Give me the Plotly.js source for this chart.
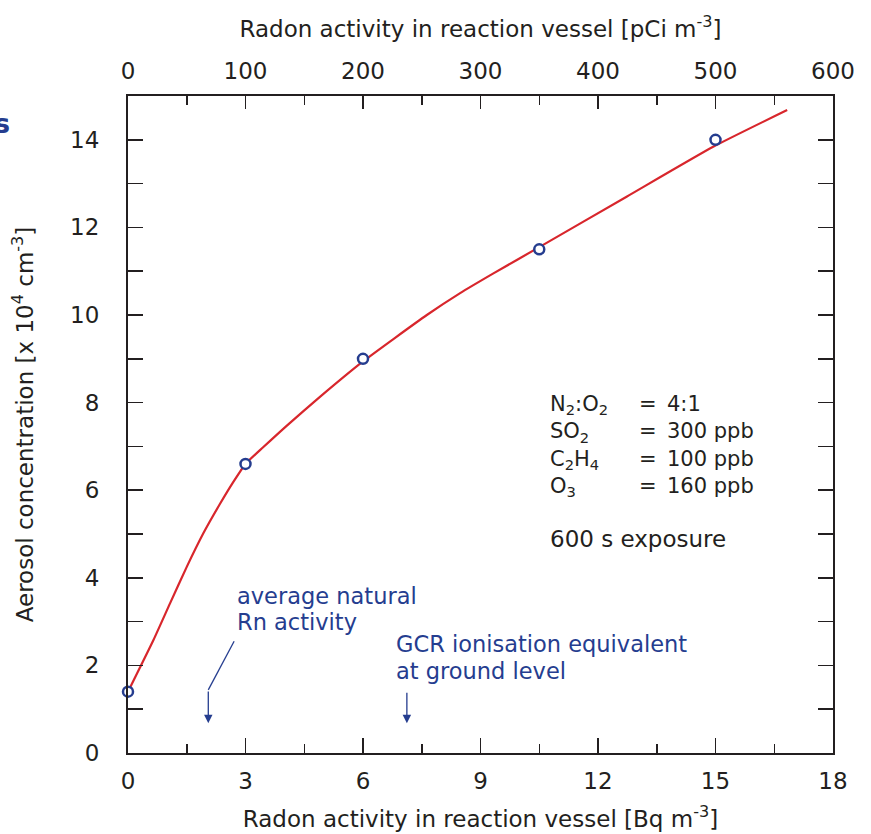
<!DOCTYPE html>
<html>
<head>
<meta charset="utf-8">
<script src="https://cdn.plot.ly/plotly-3.0.1.min.js"></script>
<style>html,body{margin:0;padding:0;background:#fff;}#chart{width:871px;height:834px;}</style>
</head>
<body>
<div id="chart"></div>
<script>
// measured points (Bq m-3 vs aerosol concentration x10^4 cm-3)
const pointX = [0, 3, 6, 10.5, 15];
const pointY = [1.4, 6.6, 9.0, 11.5, 14.0];
// fitted red curve
const curveX = [0, 0.65, 1.07, 1.5, 1.92, 2.35, 2.69, 3.0, 3.45, 4.05, 4.9, 6.0, 7.63, 8.48, 9.33, 10.5, 12.73, 14.94, 16.83];
const curveY = [1.4, 2.58, 3.41, 4.25, 5.01, 5.69, 6.19, 6.6, 6.98, 7.47, 8.13, 8.94, 10.0, 10.5, 10.95, 11.55, 12.70, 13.84, 14.68];
// axis scales
const topRange = [0, 600];
const bottomRange = [0, 18];
const yRange = [0, 15];
// legend text lines
const condLabels = ["N<sub>2</sub>:O<sub>2</sub>", "SO<sub>2</sub>", "C<sub>2</sub>H<sub>4</sub>", "O<sub>3</sub>"];
const condEquals = ["=", "=", "=", "="];
const condValues = ["4:1", "300 ppb", "100 ppb", "160 ppb"];
const exposureText = "600 s exposure";
const rnText = ["average natural", "Rn activity"];
const gcrText = ["GCR ionisation equivalent", "at ground level"];
const rnMarkX = 2.05;
const gcrMarkX = 7.12;

const INK = '#231f20';
const BLUE = '#253d8f';
const RED = '#d8262c';
const FONT = 'DejaVu Sans, Arial, sans-serif';

const traces = [
  {x: curveX, y: curveY, type: 'scatter', mode: 'lines', line: {color: RED, width: 2.2, shape: 'spline', smoothing: 0.5}, hoverinfo: 'skip', showlegend: false},
  {x: pointX, y: pointY, type: 'scatter', mode: 'markers', marker: {symbol: 'circle', size: 10, color: '#ffffff', line: {color: BLUE, width: 2.5}}, showlegend: false, cliponaxis: false},
  // carrier for the top (pCi) axis, draws nothing
  {x: topRange, y: [null, null], xaxis: 'x2', yaxis: 'y', type: 'scatter', mode: 'lines', hoverinfo: 'skip', showlegend: false}
];

const legFont = {family: FONT, size: 21, color: INK};
const annotations = [
  {x: 10.72, y: 8.28, xref: 'x', yref: 'y', text: condLabels.join('<br>'), showarrow: false, xanchor: 'left', yanchor: 'top', align: 'left', font: legFont},
  {x: 13.0, y: 8.28, xref: 'x', yref: 'y', text: condEquals.join('<br>'), showarrow: false, xanchor: 'left', yanchor: 'top', align: 'left', font: legFont},
  {x: 13.72, y: 8.28, xref: 'x', yref: 'y', text: condValues.join('<br>'), showarrow: false, xanchor: 'left', yanchor: 'top', align: 'left', font: legFont},
  {x: 10.72, y: 4.88, xref: 'x', yref: 'y', text: exposureText, showarrow: false, xanchor: 'left', yanchor: 'middle', font: {family: FONT, size: 23, color: INK}}
];
const rnY = [3.59, 2.98];
rnText.forEach((t, i) => annotations.push({x: 2.74, y: rnY[i], xref: 'x', yref: 'y', text: t, showarrow: false, xanchor: 'left', yanchor: 'middle', font: {family: FONT, size: 22.5, color: BLUE}}));
const gcrY = [2.48, 1.88];
gcrText.forEach((t, i) => annotations.push({x: 6.78, y: gcrY[i], xref: 'x', yref: 'y', text: t, showarrow: false, xanchor: 'left', yanchor: 'middle', font: {family: FONT, size: 22.5, color: BLUE}}));
// arrows
annotations.push({x: rnMarkX, y: 0.68, ax: rnMarkX, ay: 1.44, xref: 'x', yref: 'y', axref: 'x', ayref: 'y', text: '', showarrow: true, arrowhead: 2, arrowsize: 1.3, arrowwidth: 1.3, arrowcolor: BLUE});
annotations.push({x: gcrMarkX, y: 0.68, ax: gcrMarkX, ay: 1.41, xref: 'x', yref: 'y', axref: 'x', ayref: 'y', text: '', showarrow: true, arrowhead: 2, arrowsize: 1.3, arrowwidth: 1.3, arrowcolor: BLUE});
// cropped fragment at the top-left
annotations.push({x: -0.1645, y: 0.958, xref: 'paper', yref: 'paper', text: '<b>s</b>', showarrow: false, xanchor: 'right', yanchor: 'middle', font: {family: FONT, size: 27, color: BLUE}});

const shapes = [
  {type: 'line', xref: 'x', yref: 'y', x0: 2.71, y0: 2.55, x1: rnMarkX, y1: 1.44, line: {color: BLUE, width: 1.3}}
];

const axisBase = {
  showgrid: false, zeroline: false, showline: true, linecolor: INK, linewidth: 2,
  ticks: 'inside', tickcolor: INK, tickwidth: 1.5,
  tickfont: {family: FONT, size: 23, color: INK}
};
const titleFont = {family: FONT, size: 23, color: INK};

const layout = {
  width: 871, height: 834,
  margin: {l: 128, r: 38, t: 96, b: 81},
  paper_bgcolor: '#ffffff', plot_bgcolor: '#ffffff',
  showlegend: false,
  font: {family: FONT, color: INK},
  xaxis: Object.assign({}, axisBase, {
    range: bottomRange, tick0: 0, dtick: 3, ticklen: 15,
    minor: {dtick: 1.5, ticklen: 9, ticks: 'inside', tickcolor: INK, tickwidth: 1.5},
    ticklabelstandoff: 6,
    title: {text: 'Radon activity in reaction vessel [Bq m<sup>-3</sup>]', font: titleFont, standoff: 18}
  }),
  xaxis2: Object.assign({}, axisBase, {
    overlaying: 'x', side: 'top', anchor: 'y',
    range: topRange, tick0: 0, dtick: 100, ticklen: 13,
    minor: {dtick: 50, ticklen: 9, ticks: 'inside', tickcolor: INK, tickwidth: 1.5},
    ticklabelstandoff: 6,
    title: {text: 'Radon activity in reaction vessel [pCi m<sup>-3</sup>]', font: titleFont, standoff: 14}
  }),
  yaxis: Object.assign({}, axisBase, {
    range: yRange, tick0: 0, dtick: 2, ticklen: 15, mirror: 'ticks',
    minor: {dtick: 1, ticklen: 15, ticks: 'inside', tickcolor: INK, tickwidth: 1.5},
    ticklabelstandoff: 22,
    title: {text: 'Aerosol concentration [x 10<sup>4</sup> cm<sup>-3</sup>]', font: titleFont, standoff: 30}
  }),
  annotations: annotations,
  shapes: shapes
};

Plotly.newPlot('chart', traces, layout, {staticPlot: true});
</script>
</body>
</html>
